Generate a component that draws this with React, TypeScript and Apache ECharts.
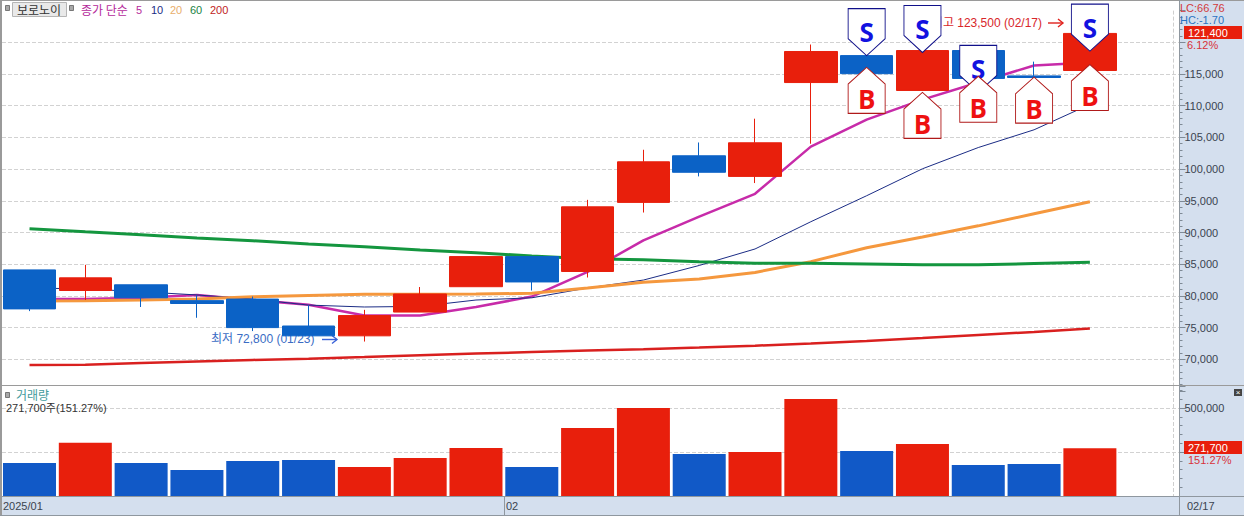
import React, { useEffect, useRef } from "react";
import * as echarts from "echarts";

const categories = ["01/15","01/16","01/17","01/20","01/21","01/22","01/23","01/24","01/31","02/03","02/04","02/05","02/06","02/07","02/10","02/11","02/12","02/13","02/14","02/17",""];
// [open, close, low, high]
const candles = [
  [84100,77950,77600,84100],[80850,82850,79350,84900],[81750,79700,78250,81750],[79250,78800,76550,80150],
  [79500,75000,74450,79900],[75250,73700,73700,78550],[73700,76900,72800,77800],[77450,80300,77450,81400],
  [81450,86200,81450,86200],[86200,82200,80850,86200],[83850,94050,82900,95150],[94750,101150,93150,103050],
  [102100,99500,98850,104200],[98850,104150,97800,107950],[113650,118550,104000,119650],[117900,115050,115050,117900],
  [112400,118700,112400,118700],[118700,114300,114300,118700],[114700,114450,114450,116950],[115550,121400,115550,123500],
];
const ma5 = [79500,79500,79700,80150,79350,78600,76900,76900,78250,79900,83800,88750,92500,96100,103550,107800,110950,113650,116350,116800];
const ma10 = [81250,81100,80650,80150,79500,78550,78250,78350,79350,79700,81250,82500,84800,87400,91700,95800,100050,103400,106200,110200];
const ma20 = [79200,79250,79350,79500,79850,80050,80250,80250,80300,80400,81250,82150,82650,83700,85400,87600,89300,91050,92950,94850];
const ma60 = [90600,90100,89650,89150,88700,88200,87750,87250,86800,86300,85850,85700,85400,85150,85150,85050,84900,84900,85100,85300];
const ma200 = [69100,69150,69400,69650,69900,70100,70350,70650,70900,71150,71400,71600,71850,72150,72500,72900,73350,73850,74300,74850];
const volumes = [187500,302800,187500,147700,198900,204500,164800,215900,272700,164800,386400,500000,238600,250000,551100,255700,295500,176100,181800,271700];
const sellMarks = [null,null,null,null,null,null,null,null,null,null,null,null,null,null,null,117900,118400,112100,null,118600];
const buyMarks = [null,null,null,null,null,null,null,null,null,null,null,null,null,null,null,116050,112100,114650,114500,116500];
const priceSplitHidden = [65000, 120000, 125000];

const RED = "#e81f0c";
const BLUE = "#0b62c6";
const VOLBLUE = "#1159c7";
const PANEL = "#d4dfee";
const FONT = '"Liberation Sans", "Noto Sans CJK KR", sans-serif';
const CJK = '"Noto Sans CJK KR", sans-serif';
const TXT = "#3a4350";

const fmt = (v: number) => v.toLocaleString("en-US");

function txt(text: string, x: number, y: number, fill: string, extra: any = {}) {
  return {
    type: "text", x, y, z: extra.z ?? 20, silent: true,
    style: { text, fill, font: extra.font ?? `11px ${CJK}`, align: extra.align ?? "left", verticalAlign: "middle" },
  };
}
function rect(x: number, y: number, w: number, h: number, fill: string, z = 20, stroke?: string) {
  return { type: "rect", z, silent: true, shape: { x, y, width: w, height: h }, style: { fill, stroke } };
}
function hvLine(x1: number, y1: number, x2: number, y2: number, stroke: string, z = 30, w = 1) {
  return { type: "line", z, silent: true, shape: { x1, y1, x2, y2 }, style: { stroke, lineWidth: w } };
}
function arrow(x1: number, x2: number, y: number, color: string) {
  return [
    hvLine(x1, y, x2, y, color, 1, 1.4),
    { type: "polyline", z: 1, silent: true, shape: { points: [[x2 - 5, y - 4], [x2, y], [x2 - 5, y + 4]] }, style: { stroke: color, fill: "none", lineWidth: 1.4 } },
  ];
}

const lineSeries = (name: string, data: number[], color: string, width: number) => ({
  name, type: "line", data, xAxisIndex: 0, yAxisIndex: 0, symbol: "none", showSymbol: false, z: 2,
  lineStyle: { color, width }, silent: true,
});

const S_PATH = "path://M0 0H36V30L18 47L0 30Z";
const B_PATH = "path://M18 0L36 17V47H0V17Z";
const PRICE_MIN = 65000, PRICE_MAX = 125000, PRICE_STEP = 5000;
const VOL_MIN = 0, VOL_MAX = 625000, VOL_STEP = 250000;

export default function App() {
  const ref = useRef<HTMLDivElement>(null);
  useEffect(() => {
    document.body.style.margin = "0";
    document.body.style.overflow = "hidden";
    const chart = echarts.init(ref.current!, undefined, { renderer: "svg" });
    const xBase = {
      type: "category", data: categories, boundaryGap: true,
      axisLine: { show: false }, axisTick: { show: false }, axisLabel: { show: false },
      splitLine: { show: true, interval: (i: number) => i === 9, lineStyle: { color: "#cfcfcf", type: "dashed", width: 1 } },
    };
    const xBlank = { type: "category", data: categories, show: false };
    const yBase = {
      type: "value", position: "right", scale: false,
      axisLine: { show: false },
      axisTick: { show: true, length: 6, lineStyle: { color: "#7f8a96" } },
      minorTick: { show: true, splitNumber: 5, length: 3, lineStyle: { color: "#7f8a96" } },
    };
    const labelStyle = { color: TXT, fontFamily: FONT, fontSize: 11, margin: 5 };
    const splitStyle = { show: true, showMinLine: false, showMaxLine: false, lineStyle: { color: "#d2d2d2", type: "dashed", width: 1 } };
    chart.setOption({
      animation: false,
      backgroundColor: PANEL,
      grid: [
        { left: 1.6, top: 10.6, width: 1172, height: 380.4 },
        { left: 1.6, top: 386, width: 1172, height: 110 },
        { left: 2, top: 10.6, width: 1177.5, height: 380.4 },
        { left: 2, top: 386, width: 1177.5, height: 110 },
      ],
      xAxis: [
        { ...xBase, gridIndex: 0 },
        { ...xBase, gridIndex: 1 },
        { ...xBlank, gridIndex: 2 },
        { ...xBlank, gridIndex: 3 },
      ],
      yAxis: [
        { type: "value", gridIndex: 0, min: PRICE_MIN, max: PRICE_MAX, interval: PRICE_STEP, show: false },
        { type: "value", gridIndex: 1, min: VOL_MIN, max: VOL_MAX, interval: VOL_STEP, show: false },
        {
          ...yBase, gridIndex: 2, min: PRICE_MIN, max: PRICE_MAX, interval: PRICE_STEP,
          axisLabel: { ...labelStyle, formatter: (v: number) => (priceSplitHidden.includes(v) ? "" : fmt(v)) },
          splitLine: splitStyle,
        },
        {
          ...yBase, gridIndex: 3, min: VOL_MIN, max: VOL_MAX, interval: VOL_STEP,
          axisLabel: { ...labelStyle, formatter: (v: number) => (v === 500000 ? fmt(v) : "") },
          splitLine: { ...splitStyle, showMinLine: true },
        },
      ],
      series: [
        lineSeries("5", ma5, "#c72ba9", 2.5),
        lineSeries("10", ma10, "#1b2c85", 1),
        lineSeries("20", ma20, "#f5983e", 3),
        lineSeries("60", ma60, "#14963f", 3),
        lineSeries("200", ma200, "#d9201f", 2.5),
        {
          name: "candle", type: "candlestick", data: candles, xAxisIndex: 0, yAxisIndex: 0, barWidth: 53, z: 3, silent: true,
          itemStyle: { color: RED, color0: BLUE, borderColor: RED, borderColor0: BLUE, borderWidth: 1 },
        },
        {
          name: "S", type: "scatter", data: sellMarks, xAxisIndex: 0, yAxisIndex: 0, clip: false, z: 5, silent: true,
          symbol: S_PATH, symbolSize: [37, 47], symbolOffset: [0, -23.5],
          itemStyle: { color: "#fff", borderColor: "#10108a", borderWidth: 1, opacity: 1 },
          label: { show: true, position: "inside", formatter: "S", color: "#1212e0", fontSize: 26, fontWeight: "bold", fontFamily: '"Open Sans", sans-serif' },
        },
        {
          name: "B", type: "scatter", data: buyMarks, xAxisIndex: 0, yAxisIndex: 0, clip: false, z: 6, silent: true,
          symbol: B_PATH, symbolSize: [37, 46], symbolOffset: [0, 23],
          itemStyle: { color: "#fff", borderColor: "#b01a1a", borderWidth: 1, opacity: 1 },
          label: { show: true, position: "inside", offset: [0, 9], formatter: "B", color: "#ee1111", fontSize: 26, fontWeight: "bold", fontFamily: '"Open Sans", sans-serif' },
        },
        {
          name: "volume", type: "bar", xAxisIndex: 1, yAxisIndex: 1, barWidth: 53, z: 3, silent: true,
          data: volumes.map((v, i) => ({ value: v, itemStyle: { color: candles[i][1] >= candles[i][0] ? RED : VOLBLUE } })),
        },
      ],
      graphic: [
        rect(2, 1, 1178, 384, "#fff", -10),
        rect(2, 386, 1178, 110, "#fff", -10),
        hvLine(0, 0.5, 1244, 0.5, "#9a9a9a"),
        rect(0, 0, 2, 516, "#9a9a9a", 30),
        hvLine(2, 385.5, 1244, 385.5, "#9a9a9a"),
        hvLine(2, 496.5, 1244, 496.5, "#8f979f"),
        hvLine(0, 515.5, 1244, 515.5, "#8f979f"),
        hvLine(1179.5, 0, 1179.5, 516, "#8f979f"),
        hvLine(504.5, 497, 504.5, 515, "#8f979f"),
        rect(5.5, 5.5, 4, 5, "#a8a8a8", 20, "#777"),
        rect(12.5, 2.5, 54, 14, "#e9e9e9", 20, "#b5b5b5"),
        txt("보로노이", 39, 9.5, "#333", { align: "center", font: `12px ${CJK}` }),
        rect(69.5, 5.5, 4, 5, "#a8a8a8", 20, "#777"),
        txt("종가 단순", 81, 9.5, "#b52a9b", { font: `12px ${CJK}` }),
        txt("5", 136, 9.5, "#b52a9b", { font: `11px ${FONT}` }),
        txt("10", 151, 9.5, "#1b2c85", { font: `11px ${FONT}` }),
        txt("20", 170, 9.5, "#e8ae6c", { font: `11px ${FONT}` }),
        txt("60", 190, 9.5, "#218244", { font: `11px ${FONT}` }),
        txt("200", 210, 9.5, "#c02424", { font: `11px ${FONT}` }),
        txt("LC:66.76", 1180, 8, "#d23a3a", { font: `11px ${FONT}` }),
        txt("HC:-1.70", 1180, 20, "#2a73c2", { font: `11px ${FONT}` }),
        rect(1184, 26, 58, 13, RED, 20),
        txt("121,400", 1188, 33, "#fff", { font: `11px ${FONT}` }),
        txt("6.12%", 1187, 45, "#d8323a", { font: `11px ${FONT}` }),
        txt("최저 72,800 (01/23)", 211, 339, "#3a6cc4", { z: 1, font: `12px ${FONT}` }),
        ...arrow(322, 337, 339.5, "#3a62d8"),
        txt("최고 123,500 (02/17)", 1042, 23, "#d8262a", { z: 1, align: "right", font: `12px ${FONT}` }),
        ...arrow(1048, 1063, 23, "#e0201c"),
        rect(5.5, 392.5, 4, 5, "#a8a8a8", 20, "#777"),
        txt("거래량", 16, 394.5, "#3f9a9c", { font: `12px ${CJK}` }),
        txt("271,700주(151.27%)", 6, 407.5, "#333", { font: `11px ${FONT}` }),
        rect(1184, 441, 58, 13, RED, 20),
        txt("271,700", 1188, 447.5, "#fff", { font: `11px ${FONT}` }),
        txt("151.27%", 1188, 460, "#d8323a", { font: `11px ${FONT}` }),
        rect(1234, 389, 8, 7, "#444", 20),
        txt("×", 1238, 392.5, "#fff", { align: "center", font: `8px ${FONT}` }),
        txt("2025/01", 3, 505.5, TXT, { font: `11px ${FONT}` }),
        txt("02", 506, 505.5, TXT, { font: `11px ${FONT}` }),
        txt("02/17", 1187, 505.5, TXT, { font: `11px ${FONT}` }),
      ],
    });
    return () => chart.dispose();
  }, []);
  return <div ref={ref} style={{ width: 1244, height: 516 }} />;
}
